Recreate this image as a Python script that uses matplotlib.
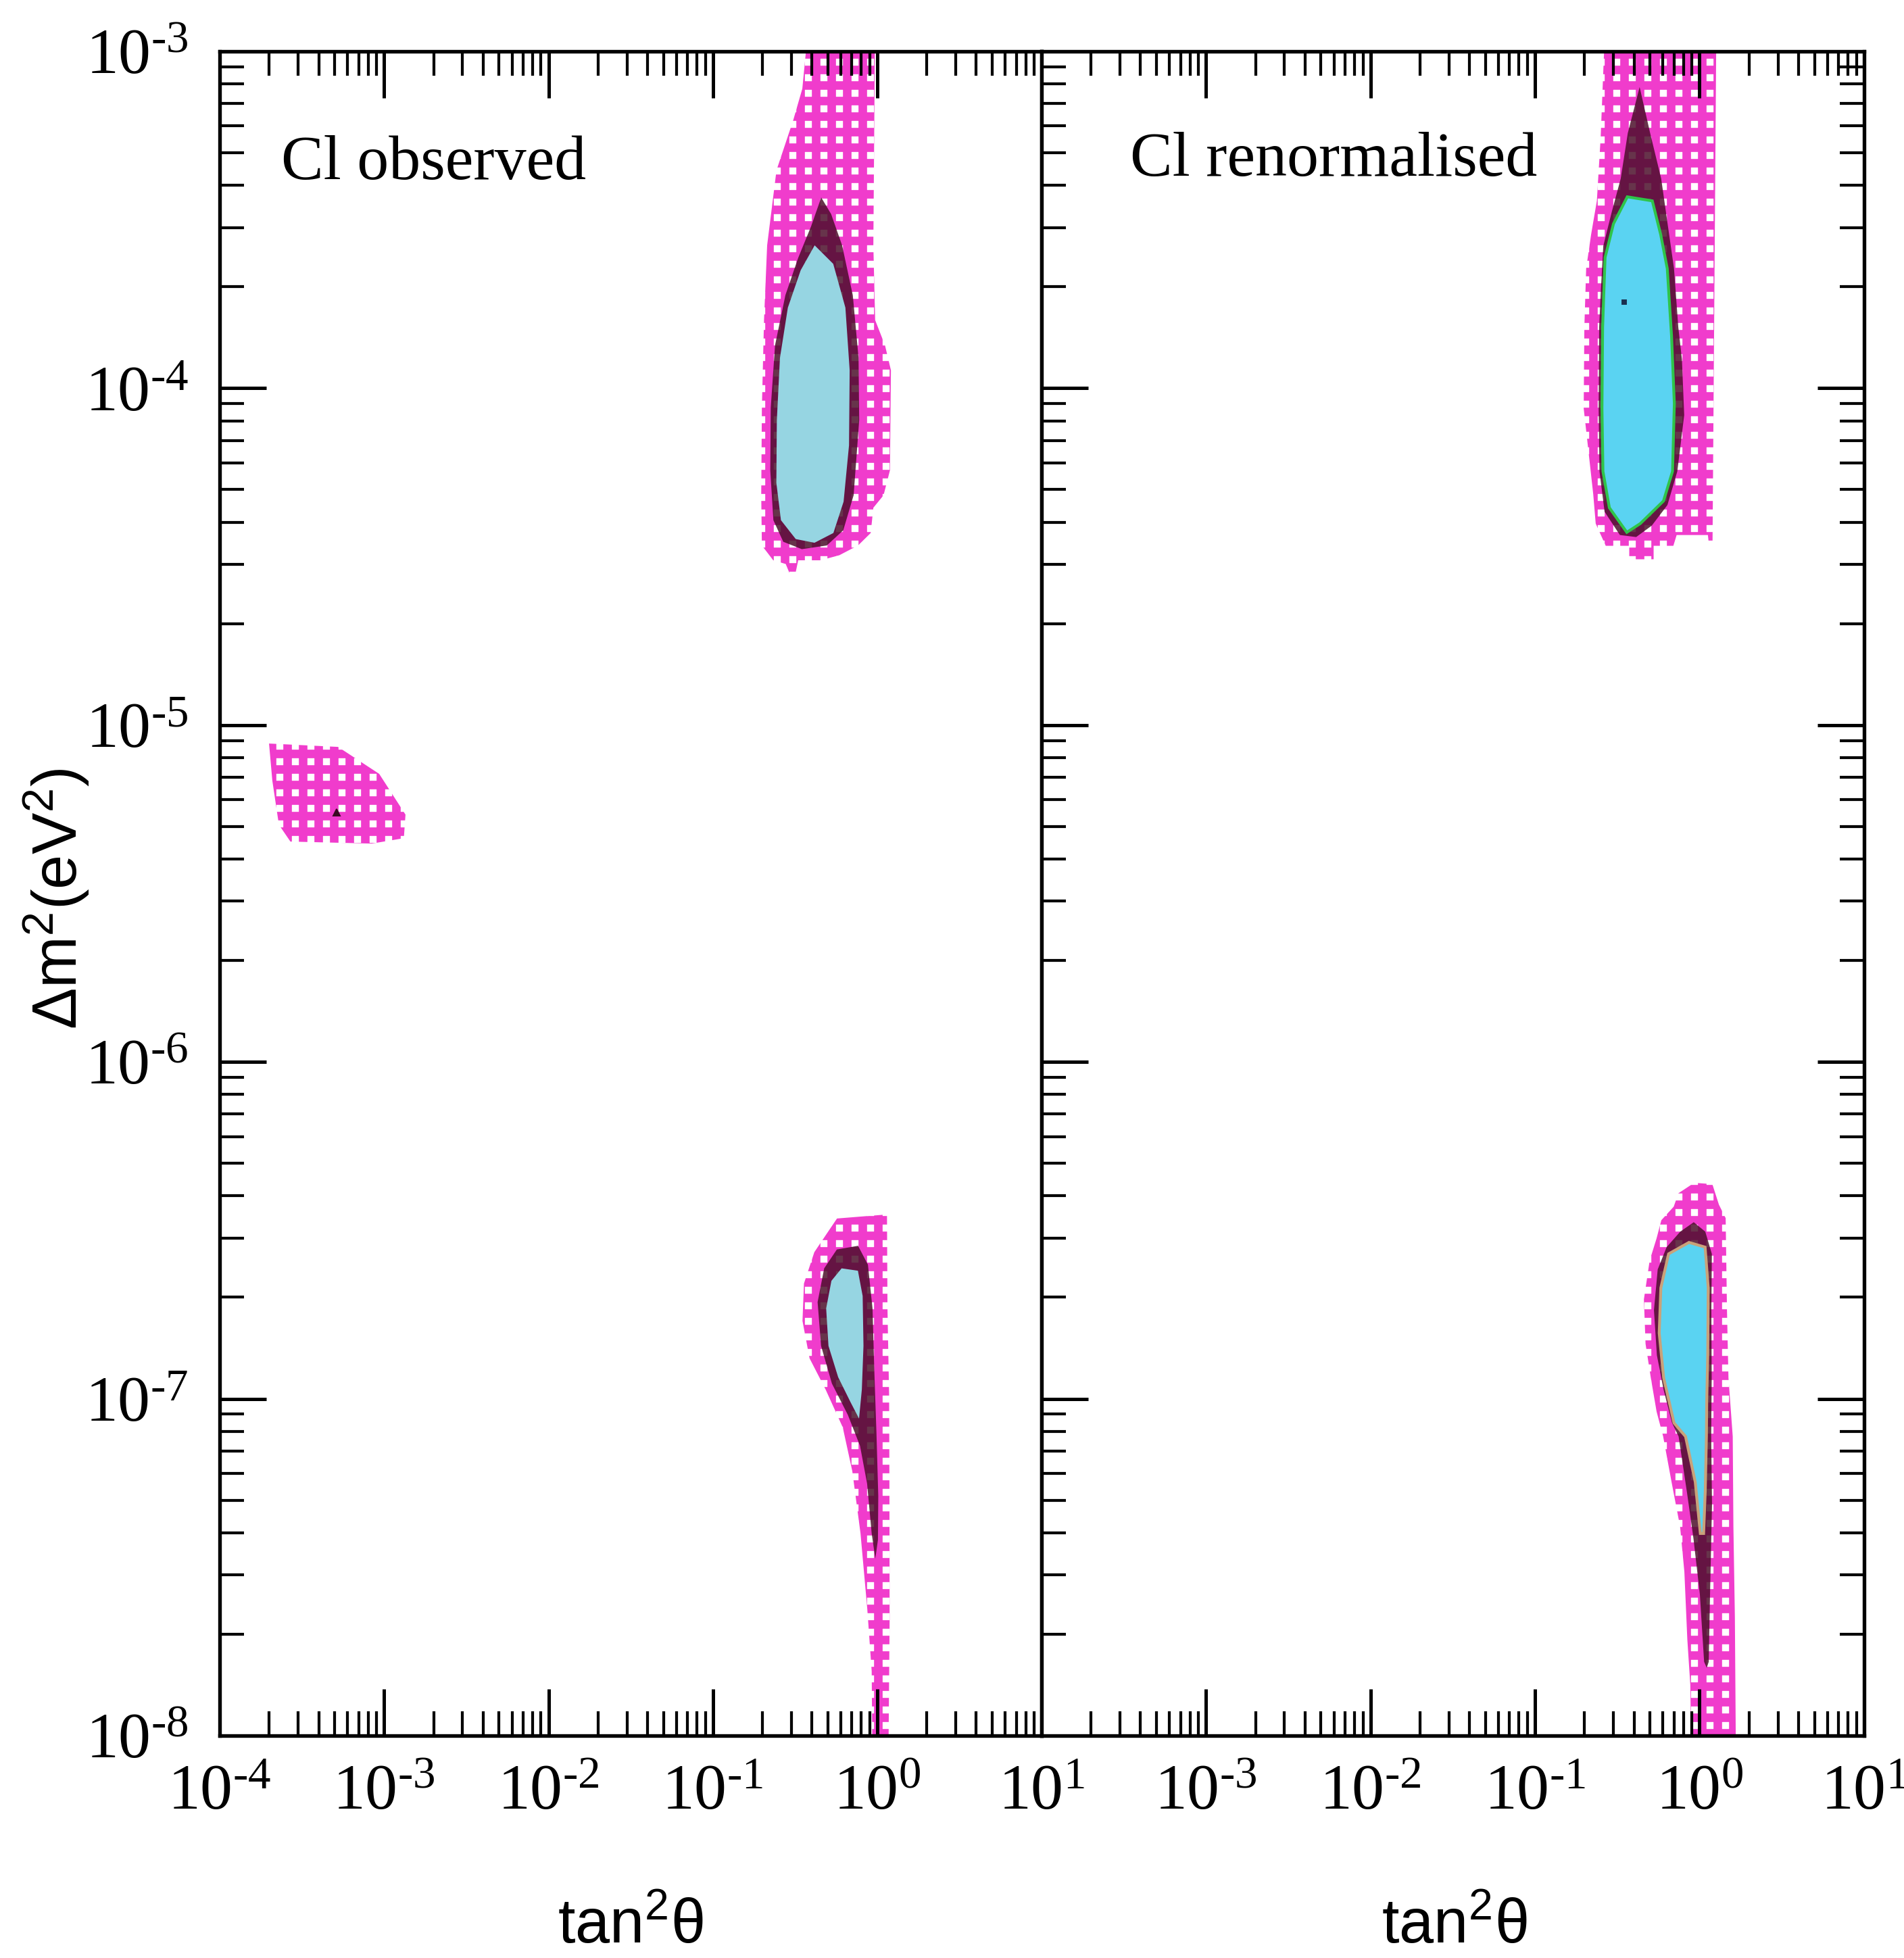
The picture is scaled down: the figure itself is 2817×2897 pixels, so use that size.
import numpy as np
import matplotlib as mpl
mpl.use("Agg")
import matplotlib.pyplot as plt
from matplotlib.ticker import LogLocator, NullFormatter

DPI = 138
plt.rcParams["font.family"] = ["Liberation Serif", "DejaVu Serif"]
plt.rcParams["mathtext.fontset"] = "custom"
plt.rcParams["mathtext.rm"] = "Liberation Serif"
plt.rcParams["mathtext.it"] = "Liberation Serif:italic"
plt.rcParams["mathtext.sf"] = "Liberation Sans"
plt.rcParams["hatch.linewidth"] = 6.6

# all contours are log10(tan^2 theta), log10(dm^2 / eV^2)
# --- Cl observed ---
obs_small_outer_x = [-3.70, -3.28, -3.03, -2.87, -2.88, -3.075, -3.57, -3.64, -3.68]
obs_small_outer_y = [-5.055, -5.065, -5.145, -5.266, -5.336, -5.352, -5.346, -5.296, -5.165]

obs_lma_outer_x = [-0.424, -0.456, -0.511, -0.613, -0.670, -0.689, -0.702, -0.706, -0.702,
                   -0.633, -0.557, -0.535, -0.497, -0.481, -0.345, -0.231, -0.117, -0.040,
                   -0.024, 0.038, 0.077, 0.083, 0.047, -0.013, -0.024, -0.014]
obs_lma_outer_y = [-2.95, -3.111, -3.204, -3.353, -3.576, -3.798, -4.058, -4.318, -4.467,
                   -4.511, -4.522, -4.548, -4.548, -4.511, -4.511, -4.496, -4.467, -4.430,
                   -4.355, -4.318, -4.244, -3.947, -3.873, -3.798, -3.576, -2.95]
obs_lma_mid_x = [-0.341, -0.403, -0.481, -0.559, -0.622, -0.648, -0.651, -0.632, -0.572,
                 -0.459, -0.307, -0.207, -0.144, -0.110, -0.114, -0.149, -0.214, -0.281]
obs_lma_mid_y = [-3.434, -3.520, -3.613, -3.724, -3.873, -4.058, -4.244, -4.392, -4.456,
                 -4.478, -4.467, -4.422, -4.318, -4.095, -3.910, -3.724, -3.576, -3.483]
obs_lma_inner_x = [-0.381, -0.466, -0.544, -0.592, -0.611, -0.614, -0.586, -0.496, -0.382,
                   -0.267, -0.205, -0.172, -0.168, -0.194, -0.268]
obs_lma_inner_y = [-3.576, -3.650, -3.761, -3.910, -4.095, -4.281, -4.392, -4.448, -4.459,
                   -4.430, -4.337, -4.170, -3.947, -3.761, -3.631]

obs_low_outer_x = [-0.245, 0.059, 0.062, 0.072, 0.074, 0.075, 0.068, -0.030, -0.034, -0.061,
                   -0.102, -0.152, -0.210, -0.314, -0.412, -0.455, -0.446, -0.383, -0.306]
obs_low_outer_y = [-6.465, -6.453, -6.732, -6.992, -7.289, -7.660, -8.05, -8.05, -7.809, -7.623,
                   -7.400, -7.215, -7.085, -6.973, -6.880, -6.769, -6.658, -6.565, -6.509]
obs_low_mid_x = [-0.246, -0.117, -0.057, -0.029, -0.018, -0.005, 0.006, 0.004, -0.012,
                 -0.034, -0.062, -0.105, -0.179, -0.276, -0.342, -0.363, -0.323]
obs_low_mid_y = [-6.557, -6.546, -6.602, -6.732, -6.918, -7.103, -7.289, -7.419, -7.475,
                 -7.400, -7.252, -7.140, -7.048, -6.955, -6.843, -6.713, -6.613]
obs_low_inner_x = [-0.217, -0.118, -0.089, -0.084, -0.094, -0.111, -0.163, -0.238, -0.297, -0.311, -0.279]
obs_low_inner_y = [-6.613, -6.620, -6.695, -6.843, -6.973, -7.059, -7.010, -6.936, -6.843, -6.732, -6.650]

obs_best_x = [-3.29]
obs_best_y = [-5.26]

# --- Cl renormalised ---
ren_lma_outer_x = [-0.576, -0.601, -0.624, -0.659, -0.689, -0.700, -0.704, -0.646, -0.631, -0.570,
                   -0.427, -0.427, -0.279, -0.279, -0.159, -0.139, 0.051, 0.058, 0.079, 0.102]
ren_lma_outer_y = [-2.95, -3.257, -3.444, -3.544, -3.645, -3.819, -4.060, -4.315, -4.402, -4.468,
                   -4.468, -4.508, -4.508, -4.468, -4.468, -4.436, -4.436, -4.468, -4.468, -2.95]
ren_lma_mid_x = [-0.364, -0.436, -0.479, -0.534, -0.585, -0.600, -0.610, -0.613, -0.608, -0.577, -0.484,
                 -0.385, -0.290, -0.195, -0.135, -0.093, -0.107, -0.129, -0.155, -0.194, -0.233, -0.300]
ren_lma_mid_y = [-3.106, -3.243, -3.378, -3.478, -3.578, -3.713, -3.819, -4.060, -4.247, -4.367, -4.436,
                 -4.442, -4.408, -4.347, -4.247, -4.080, -3.914, -3.819, -3.645, -3.512, -3.378, -3.243]
ren_lma_inner_x = [-0.439, -0.523, -0.574, -0.589, -0.593, -0.587, -0.548, -0.442, -0.360, -0.219,
                   -0.164, -0.153, -0.170, -0.196, -0.236, -0.287]
ren_lma_inner_y = [-3.432, -3.512, -3.612, -3.819, -4.060, -4.247, -4.355, -4.428, -4.402, -4.335,
                   -4.247, -4.046, -3.845, -3.645, -3.544, -3.444]

ren_low_outer_x = [-0.032, -0.128, -0.157, -0.232, -0.261, -0.303, -0.338, -0.328, -0.296, -0.261,
                   -0.221, -0.170, -0.118, -0.092, -0.074, -0.056, -0.05, 0.221, 0.215, 0.206,
                   0.202, 0.176, 0.167, 0.159, 0.118, 0.078]
ren_low_outer_y = [-6.359, -6.390, -6.430, -6.470, -6.524, -6.590, -6.705, -6.837, -6.938, -7.038,
                   -7.112, -7.247, -7.380, -7.514, -7.715, -7.849, -8.05, -8.05, -7.649, -7.380,
                   -7.112, -6.938, -6.737, -6.464, -6.424, -6.363]
ren_low_mid_x = [-0.035, -0.117, -0.200, -0.254, -0.277, -0.259, -0.219, -0.167, -0.127, -0.076, -0.037,
                 0.002, 0.028, 0.044, 0.056, 0.064, 0.076, 0.071, 0.074, 0.072, 0.075, 0.035]
ren_low_mid_y = [-6.476, -6.504, -6.550, -6.616, -6.737, -6.871, -6.972, -7.072, -7.112, -7.279, -7.414,
                 -7.580, -7.781, -7.799, -7.781, -7.580, -7.313, -7.112, -6.938, -6.737, -6.570, -6.504]
ren_low_inner_x = [-0.064, -0.188, -0.235, -0.245, -0.218, -0.155, -0.085, -0.026, 0.005, 0.025,
                   0.035, 0.042, 0.044, 0.050, 0.053, 0.034]
ren_low_inner_y = [-6.536, -6.570, -6.671, -6.805, -6.938, -7.072, -7.112, -7.247, -7.400, -7.400,
                   -7.273, -7.112, -7.006, -6.871, -6.671, -6.550]

ren_best_x = [-0.456]
ren_best_y = [-3.745]

x_decades = [-4, -3, -2, -1, 0, 1]
y_decades = [-8, -7, -6, -5, -4, -3]

MAGENTA = "#f03ccc"
DARK = (0.29, 0.05, 0.16, 0.84)


def expo(e):
    # short hyphen in the exponent, like the scan
    s = ("\u2010%d" % -e) if e < 0 else "%d" % e
    return r"$\mathregular{10^{%s}}$" % s


def outer(ax, lx, ly):
    ax.fill(10.0**np.array(lx), 10.0**np.array(ly), facecolor="white",
            edgecolor=MAGENTA, hatch="+", linewidth=0, zorder=0.5)


def mid(ax, lx, ly):
    ax.fill(10.0**np.array(lx), 10.0**np.array(ly), facecolor=DARK,
            linewidth=0, zorder=0.6)


def inner(ax, lx, ly, color, edge=None):
    ax.fill(10.0**np.array(lx), 10.0**np.array(ly), facecolor=color,
            edgecolor=edge if edge else color, linewidth=2.2 if edge else 0, zorder=0.7)


fig = plt.figure(figsize=(2817 / DPI, 2897 / DPI), dpi=DPI)
axL = fig.add_axes([0.1154, 0.1136, 0.4317, 0.8602])
axR = fig.add_axes([0.5470, 0.1136, 0.4320, 0.8602])

outer(axL, obs_small_outer_x, obs_small_outer_y)
outer(axL, obs_lma_outer_x, obs_lma_outer_y)
mid(axL, obs_lma_mid_x, obs_lma_mid_y)
inner(axL, obs_lma_inner_x, obs_lma_inner_y, "#96d5e2")
outer(axL, obs_low_outer_x, obs_low_outer_y)
mid(axL, obs_low_mid_x, obs_low_mid_y)
inner(axL, obs_low_inner_x, obs_low_inner_y, "#96d5e2")
axL.plot(10.0**np.array(obs_best_x), 10.0**np.array(obs_best_y), "^",
         color="#3a0a20", ms=5, zorder=0.8)

outer(axR, ren_lma_outer_x, ren_lma_outer_y)
mid(axR, ren_lma_mid_x, ren_lma_mid_y)
inner(axR, ren_lma_inner_x, ren_lma_inner_y, "#5ad3f2", edge="#2fc44a")
outer(axR, ren_low_outer_x, ren_low_outer_y)
mid(axR, ren_low_mid_x, ren_low_mid_y)
inner(axR, ren_low_inner_x, ren_low_inner_y, "#5ad3f2", edge="#c9a27a")
axR.plot(10.0**np.array(ren_best_x), 10.0**np.array(ren_best_y), "s",
         color="#1a3050", ms=3, zorder=0.8)

for ax, is_left in ((axL, True), (axR, False)):
    ax.set_xscale("log")
    ax.set_yscale("log")
    ax.set_xlim(1e-4, 1e1)
    ax.set_ylim(1e-8, 1e-3)
    ax.set_xticks([10.0**e for e in x_decades])
    xl = [expo(e) for e in x_decades]
    if not is_left:
        xl[0] = ""
    ax.set_xticklabels(xl)
    ax.set_yticks([10.0**e for e in y_decades])
    ax.set_yticklabels([expo(e) for e in y_decades])
    for a in (ax.xaxis, ax.yaxis):
        a.set_minor_locator(LogLocator(base=10, subs=np.arange(2, 10), numticks=100))
        a.set_minor_formatter(NullFormatter())
    ax.tick_params(which="major", direction="in", length=36, width=2.6,
                   top=True, bottom=True, left=True, right=not is_left,
                   labelsize=50, labelleft=is_left)
    ax.tick_params(which="minor", direction="in", length=19, width=2.2,
                   top=True, bottom=True, left=True, right=not is_left)
    ax.tick_params(axis="x", which="major", pad=22)
    ax.tick_params(axis="y", which="major", pad=24)
    for sp in ax.spines.values():
        sp.set_linewidth(2.8)

axL.text(0.075, 0.933, "Cl observed", transform=axL.transAxes, fontsize=49,
         va="center", ha="left")
axR.text(0.108, 0.935, "Cl renormalised", transform=axR.transAxes, fontsize=49,
         va="center", ha="left")

fig.text(0.3312, 0.016, r"$\mathsf{tan^{2}\theta}$", fontsize=48, ha="center", va="center")
fig.text(0.7640, 0.016, r"$\mathsf{tan^{2}\theta}$", fontsize=48, ha="center", va="center")
fig.text(0.0295, 0.541, r"$\mathsf{\Delta m^{2}(eV^{2})}$", fontsize=48, rotation=90,
         ha="center", va="center")

fig.savefig("out.png", dpi=DPI)
